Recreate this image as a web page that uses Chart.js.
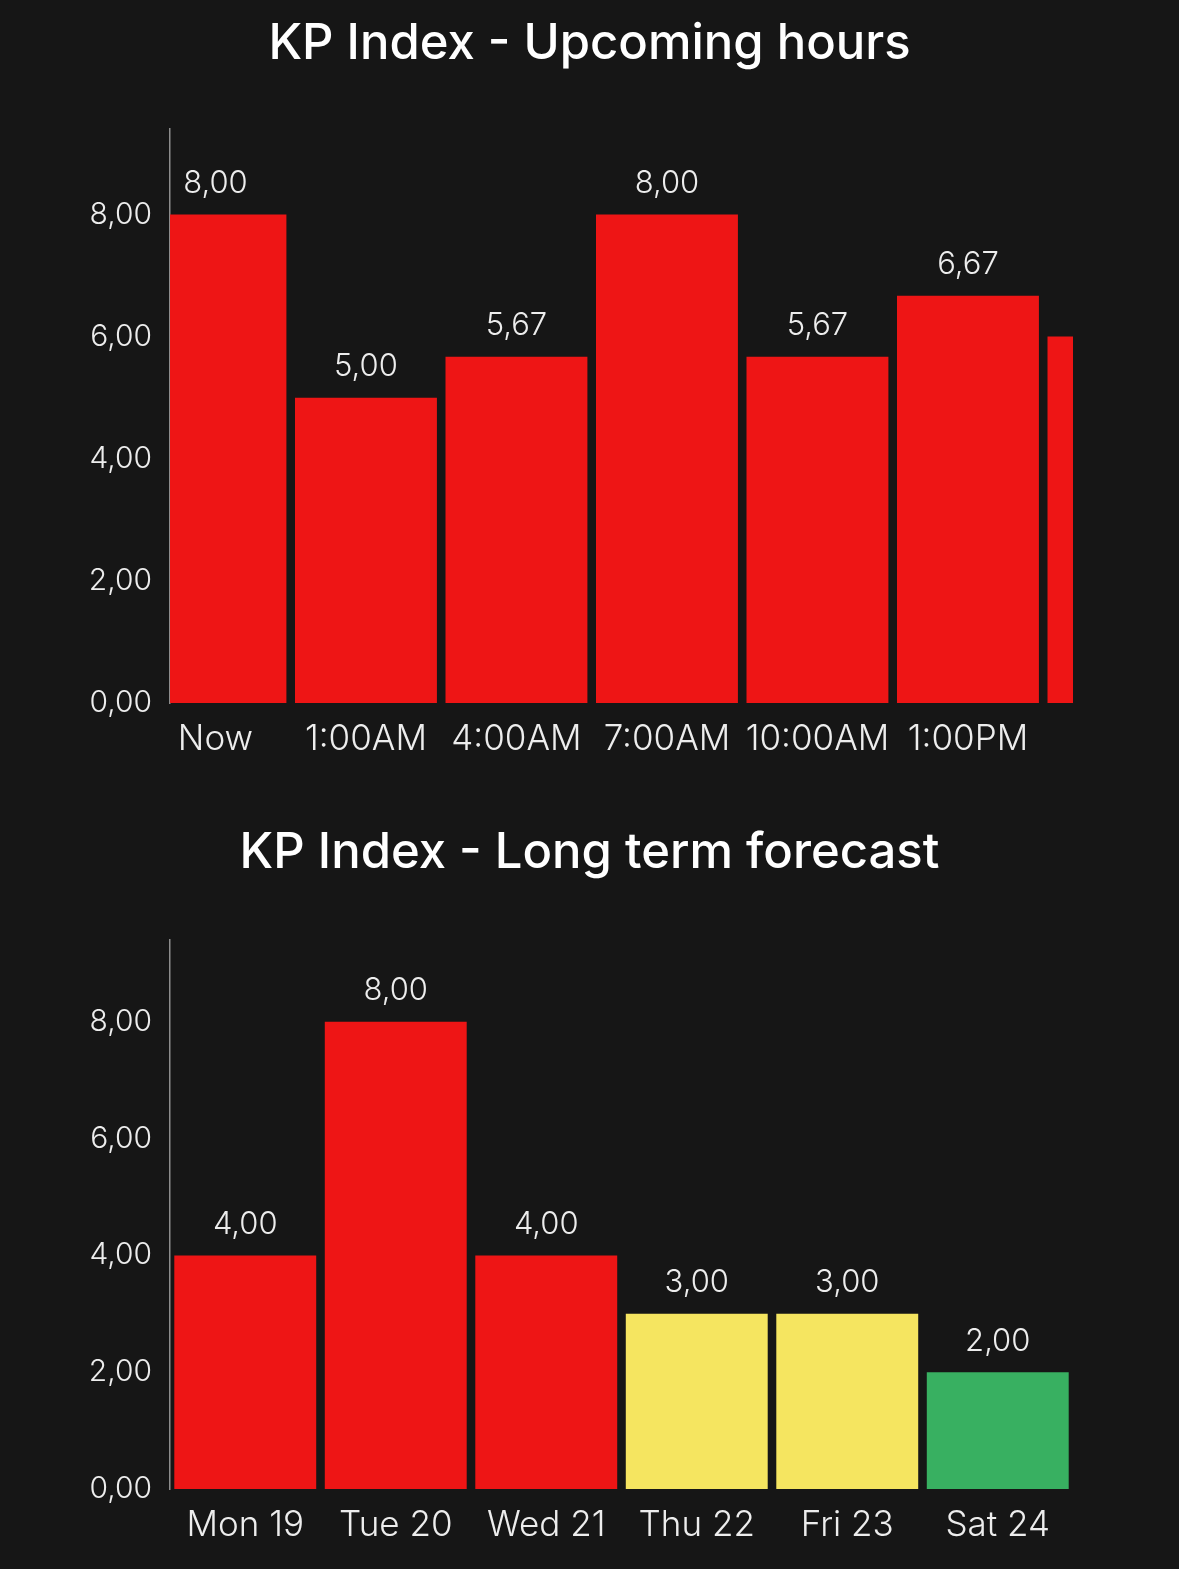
<!DOCTYPE html>
<html>
<head>
<meta charset="utf-8">
<script src="https://cdn.jsdelivr.net/npm/chart.js@4/dist/chart.umd.min.js"></script>
<style>
  html, body { margin: 0; padding: 0; background: #161616; overflow: hidden; }
  .box { position: relative; width: 1179px; }
  #top-box { height: 785px; }
  #bottom-box { height: 784px; }
  .title {
    position: absolute; left: 0; right: 0; text-align: center;
    font-family: Inter, "Noto Sans", sans-serif; font-size: 49px; font-weight: 500;
    line-height: 1; color: #ffffff; z-index: 2;
  }
  #top-box .title { top: 17px; }
  #bottom-box .title { top: 41px; }
</style>
</head>
<body>
<div class="box" id="top-box">
  <div class="title">KP Index - Upcoming hours</div>
  <canvas id="kp-hours"></canvas>
</div>
<div class="box" id="bottom-box">
  <div class="title">KP Index - Long term forecast</div>
  <canvas id="kp-days"></canvas>
</div>
<script>
const hourLabels = ["Now", "1:00AM", "4:00AM", "7:00AM", "10:00AM", "1:00PM", "4:00PM"];
const hourValues = [8.00, 5.00, 5.67, 8.00, 5.67, 6.67, 6.00];

const dayLabels = ["Mon 19", "Tue 20", "Wed 21", "Thu 22", "Fri 23", "Sat 24"];
const dayValues = [4.00, 8.00, 4.00, 3.00, 3.00, 2.00];

const yTicks = [0, 2, 4, 6, 8];

const RED = "#ee1515", YELLOW = "#f5e560", GREEN = "#38b061";
const TEXT = "#ededed";
const FONT = "Inter, 'Noto Sans', sans-serif";

// kp -> colour, same buckets as the app
const kpColour = v => v >= 4 ? RED : (v >= 3 ? YELLOW : GREEN);
const fmt = v => Number(v).toFixed(2).replace(".", ",");

// value labels above each bar (only when the bar centre is on screen)
const valueLabels = {
    id: "valueLabels",
    afterDatasetsDraw(chart) {
        const { ctx, chartArea } = chart;
        const meta = chart.getDatasetMeta(0);
        ctx.save();
        ctx.font = `300 31px ${FONT}`;
        ctx.fillStyle = TEXT;
        ctx.textAlign = "center";
        ctx.textBaseline = "middle";
        meta.data.forEach((bar, i) => {
            if (bar.x < chartArea.left || bar.x > chartArea.right) return;
            const raw = chart.data.datasets[0].data[i];
            const v = typeof raw === "object" ? raw.y : raw;
            ctx.fillText(fmt(v), bar.x, bar.y - 31);
        });
        ctx.restore();
    }
};

function yScale() {
    return {
        min: 0,
        max: 9.4,
        afterFit: s => { s.width = 170; },
        afterBuildTicks: s => { s.ticks = yTicks.map(v => ({ value: v })); },
        grid: { display: false, drawTicks: false },
        border: { display: true, color: "#8c8c8c", width: 1.5 },
        ticks: {
            color: TEXT,
            padding: 18,
            font: { family: FONT, size: 30, weight: "300" },
            callback: v => fmt(v)
        }
    };
}

Chart.defaults.animation = false;

// --- upcoming hours: a scrolled window over the hourly bars
const hourWindow = { min: -0.302, max: 5.698 };

new Chart(document.getElementById("kp-hours"), {
    type: "bar",
    data: {
        datasets: [{
            data: hourValues.map((v, i) => ({ x: i, y: v })),
            backgroundColor: hourValues.map(kpColour),
            barPercentage: 0.943,
            categoryPercentage: 1,
            clip: 0
        }]
    },
    options: {
        responsive: true,
        maintainAspectRatio: false,
        layout: { padding: { left: 0, right: 106, top: 129, bottom: 10 } },
        plugins: {
            legend: { display: false },
            tooltip: { enabled: false },
            title: { display: false }
        },
        scales: {
            x: {
                type: "linear",
                offset: false,
                min: hourWindow.min,
                max: hourWindow.max,
                // one tick per hour slot that is inside the window
                afterBuildTicks: s => {
                    s.ticks = hourLabels
                        .map((_, i) => ({ value: i }))
                        .filter(t => t.value >= s.min && t.value <= s.max);
                },
                grid: { display: false, drawTicks: false },
                border: { display: false },
                ticks: {
                    autoSkip: false,
                    maxRotation: 0,
                    color: TEXT,
                    padding: 15,
                    font: { family: FONT, size: 35, weight: "300" },
                    callback: v => hourLabels[Math.round(v)] ?? ""
                }
            },
            y: yScale()
        }
    },
    plugins: [valueLabels]
});

// --- long term forecast
new Chart(document.getElementById("kp-days"), {
    type: "bar",
    data: {
        labels: dayLabels,
        datasets: [{
            data: dayValues,
            backgroundColor: dayValues.map(kpColour),
            barPercentage: 0.943,
            categoryPercentage: 1
        }]
    },
    options: {
        responsive: true,
        maintainAspectRatio: false,
        layout: { padding: { left: 0, right: 106, top: 155, bottom: 8 } },
        plugins: {
            legend: { display: false },
            tooltip: { enabled: false },
            title: { display: false }
        },
        scales: {
            x: {
                grid: { display: false, drawTicks: false },
                border: { display: false },
                ticks: {
                    autoSkip: false,
                    maxRotation: 0,
                    color: TEXT,
                    padding: 15,
                    font: { family: FONT, size: 35, weight: "300" }
                }
            },
            y: yScale()
        }
    },
    plugins: [valueLabels]
});
</script>
</body>
</html>
